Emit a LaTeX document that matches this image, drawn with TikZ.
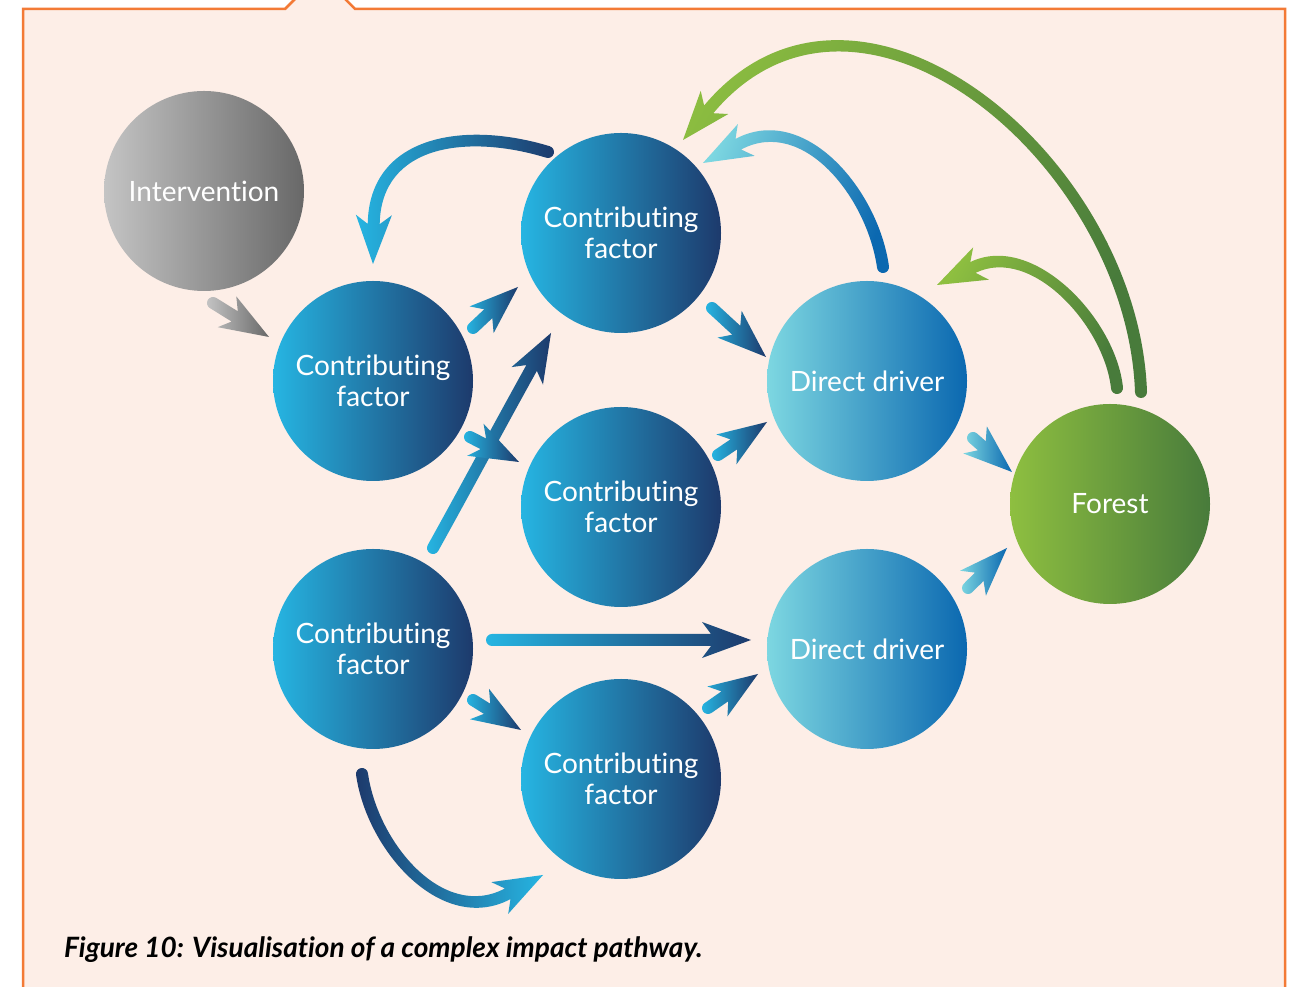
\documentclass[tikz,border=0pt]{standalone}
\usepackage{fontspec}
\setmainfont{Lato}[Ligatures=NoCommon]
\usepackage{tikz}
\usetikzlibrary{calc}

\definecolor{panel}{HTML}{FDEEE7}
\definecolor{frame}{HTML}{F37A36}
\definecolor{cfleft}{HTML}{26B5E2}
\definecolor{cfmid}{HTML}{0A65AE}
\definecolor{cfright}{HTML}{1D3A6C}
\definecolor{ddleft}{HTML}{7DD7E1}
\definecolor{ddmid}{HTML}{3DA9D6}
\definecolor{ddright}{HTML}{0B68B0}
\definecolor{fleft}{HTML}{8EBF40}
\definecolor{fmid}{HTML}{3DAE4A}
\definecolor{fright}{HTML}{487B3B}
\definecolor{ivleft}{HTML}{C4C4C4}
\definecolor{ivright}{HTML}{686868}

% fat arrow: [shading]{tail}{out angle}{tip}{head angle}
\newcommand\flowarrow[5][]{%
  \pgfmathsetmacro\faoutl{#3+90}%
  \pgfmathsetmacro\faoutr{#3-90}%
  \pgfmathsetmacro\fain{#5+180}%
  \pgfmathsetmacro\fahl{#5+90}%
  \pgfmathsetmacro\fahr{#5-90}%
  \shade[#1]
    ($(#2)+(\faoutl:6)$) to[out=#3, in=\fain] ($(#4)+(#5:-40)+(\fahl:6)$)
    -- ($(#4)+(#5:-49)+(\fahl:18)$) -- (#4)
    -- ($(#4)+(#5:-49)+(\fahr:18)$) -- ($(#4)+(#5:-40)+(\fahr:6)$)
    to[out=\fain, in=#3] ($(#2)+(\faoutr:6)$)
    arc[start angle=\faoutr, delta angle=-180, radius=6] -- cycle;}

\begin{document}
\begin{tikzpicture}[x=1pt, y=1pt,
  ball/.style={circle, minimum size=200pt, inner sep=0pt, align=center,
    text=white, font=\fontsize{28}{31}\selectfont},
  factor/.style={ball, left color=cfleft, middle color=cfmid, right color=cfright},
  driver/.style={ball, left color=ddleft, middle color=ddmid, right color=ddright},
  blueflow/.style={left color=cfleft, middle color=cfmid, right color=cfright},
  paleflow/.style={left color=ddleft, middle color=ddmid, right color=ddright},
  greenflow/.style={left color=fleft, middle color=fmid, right color=fright, shading angle=60}
]
\useasboundingbox (0,0) rectangle (1290,987);
\begin{scope}
  \clip (0,0) rectangle (1290,987);
  \draw[frame, line width=2.5pt, fill=panel] (23,-10) -- (23,978) -- (285,978)
    -- (320,1013) -- (355,978) -- (1285,978) -- (1285,-10);
\end{scope}

% circles
\node[ball, left color=ivleft, right color=ivright] (interv) at (204,796) {Intervention};
\node[factor] (cfa) at (621,754) {Contributing\\factor};
\node[factor] (cfb) at (373,606) {Contributing\\factor};
\node[factor] (cfc) at (621,480) {Contributing\\factor};
\node[factor] (cfd) at (373,338) {Contributing\\factor};
\node[factor] (cfe) at (621,208) {Contributing\\factor};
\node[driver] (dda) at (867,606) {Direct driver};
\node[driver] (ddb) at (867,338) {Direct driver};
\node[ball, left color=fleft, middle color=fmid, right color=fright] (forest) at (1110,483) {Forest};

% arrow ends
\coordinate (s1) at ($(interv.center)+(9,-112)$);  \coordinate (e1) at ($(cfb.center)+(-104,44)$);
\coordinate (s2) at ($(cfb.center)+(100,53)$);     \coordinate (e2) at ($(cfa.center)+(-103,-54)$);
\coordinate (s3) at ($(cfd.center)+(60,101)$);     \coordinate (e3) at ($(cfa.center)+(-70,-100)$);
\coordinate (s4) at ($(cfb.center)+(97,-56)$);     \coordinate (e4) at ($(cfc.center)+(-102,45)$);
\coordinate (s5) at ($(cfa.center)+(91,-75)$);     \coordinate (e5) at ($(dda.center)+(-101,24)$);
\coordinate (s6) at ($(cfc.center)+(97,52)$);      \coordinate (e6) at ($(dda.center)+(-100,-41)$);
\coordinate (s7) at ($(dda.center)+(106,-57)$);    \coordinate (e7) at ($(forest.center)+(-98,32)$);
\coordinate (s8) at ($(ddb.center)+(101,61)$);     \coordinate (e8) at ($(forest.center)+(-103,-44)$);
\coordinate (s9) at ($(cfd.center)+(119,9)$);      \coordinate (e9) at ($(ddb.center)+(-116,9)$);
\coordinate (s10) at ($(cfd.center)+(100,-51)$);   \coordinate (e10) at ($(cfe.center)+(-100,49)$);
\coordinate (s11) at ($(cfe.center)+(87,71)$);     \coordinate (e11) at ($(ddb.center)+(-109,-25)$);
\coordinate (s12) at ($(cfd.center)+(-11,-125)$);  \coordinate (e12) at ($(cfe.center)+(-78,-96)$);
\coordinate (s13) at ($(cfa.center)+(-73,81)$);    \coordinate (e13) at ($(cfb.center)+(0,117)$);
\coordinate (s14) at ($(dda.center)+(16,114)$);    \coordinate (e14) at ($(cfa.center)+(82,70)$);
\coordinate (s15) at ($(forest.center)+(7,116)$);  \coordinate (e15) at ($(dda.center)+(70,96)$);
\coordinate (s16) at ($(forest.center)+(31,112)$); \coordinate (e16) at ($(cfa.center)+(62,93)$);

% straight arrows
\flowarrow[left color=ivleft, right color=ivright]{s1}{-31}{e1}{-31}
\flowarrow[blueflow]{s2}{42}{e2}{42}
\flowarrow[blueflow]{s3}{61}{e3}{61}
\flowarrow[blueflow]{s4}{-27}{e4}{-27}
\flowarrow[blueflow]{s5}{-42}{e5}{-42}
\flowarrow[blueflow]{s6}{34}{e6}{34}
\flowarrow[paleflow]{s7}{-41}{e7}{-41}
\flowarrow[paleflow]{s8}{46}{e8}{46}
\flowarrow[blueflow]{s9}{0}{e9}{0}
\flowarrow[blueflow]{s10}{-32}{e10}{-32}
\flowarrow[blueflow]{s11}{34}{e11}{34}

% curved arrows
\flowarrow[left color=cfright, middle color=cfmid, right color=cfleft]{s12}{-82}{e12}{28}
\flowarrow[blueflow, looseness=1.15]{s13}{163}{e13}{269}
\flowarrow[left color=ddleft, right color=ddright, shading angle=70]{s14}{98}{e14}{208}
\flowarrow[greenflow, looseness=0.9]{s15}{96}{e15}{206}
\flowarrow[greenflow, looseness=1.15]{s16}{92}{e16}{230}

\node[anchor=base west, inner sep=0pt, text=black,
  font=\fontsize{28}{32}\selectfont\bfseries\itshape] (caption) at (64,29)
  {Figure 10: Visualisation of a complex impact pathway.};
\end{tikzpicture}
\end{document}
